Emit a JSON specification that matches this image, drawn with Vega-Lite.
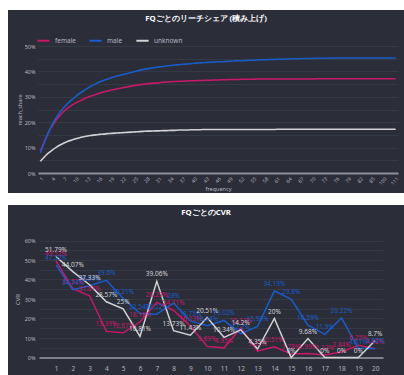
{
  "$schema": "https://vega.github.io/schema/vega-lite/v6.json",
  "background": "white",
  "padding": {"left": 8, "top": 10, "right": 0, "bottom": 0},
  "spacing": 12,
  "config": {
    "font": "Noto Sans",
    "view": {"stroke": null},
    "axis": {"labelColor": "#b4b7c1", "titleColor": "#b4b7c1", "gridColor": "#393c48", "gridWidth": 0.8, "domain": false, "ticks": false, "titleFontWeight": "normal"},
    "legend": {"labelColor": "#b4b7c1", "labelFontSize": 6.5, "symbolType": "stroke", "symbolSize": 150, "symbolStrokeWidth": 2, "columnPadding": 9},
    "title": {"color": "#ffffff", "fontWeight": "bold", "fontSize": 7.8, "anchor": "middle", "baseline": "bottom"}
  },
  "vconcat": [
    {
      "width": 396,
      "height": 183,
      "view": {"fill": "#2b2d38", "stroke": null},
      "title": {"text": "FQごとのリーチシェア (積み上げ)", "offset": -13},
      "data": {"values": [
        {"f":1,"female":0.085,"male":0.079,"unknown":0.046},
        {"f":2,"female":0.124,"male":0.120,"unknown":0.063},
        {"f":3,"female":0.158,"male":0.158,"unknown":0.078},
        {"f":4,"female":0.186,"male":0.190,"unknown":0.090},
        {"f":5,"female":0.209,"male":0.218,"unknown":0.101},
        {"f":6,"female":0.228,"male":0.240,"unknown":0.110},
        {"f":7,"female":0.243,"male":0.259,"unknown":0.118},
        {"f":8,"female":0.256,"male":0.275,"unknown":0.125},
        {"f":9,"female":0.267,"male":0.289,"unknown":0.130},
        {"f":10,"female":0.276,"male":0.302,"unknown":0.135},
        {"f":11,"female":0.284,"male":0.314,"unknown":0.139},
        {"f":12,"female":0.291,"male":0.324,"unknown":0.143},
        {"f":13,"female":0.298,"male":0.334,"unknown":0.146},
        {"f":14,"female":0.304,"male":0.343,"unknown":0.148},
        {"f":15,"female":0.309,"male":0.351,"unknown":0.150},
        {"f":16,"female":0.314,"male":0.358,"unknown":0.152},
        {"f":17,"female":0.319,"male":0.364,"unknown":0.153},
        {"f":18,"female":0.323,"male":0.370,"unknown":0.155},
        {"f":19,"female":0.327,"male":0.375,"unknown":0.156},
        {"f":20,"female":0.330,"male":0.380,"unknown":0.157},
        {"f":21,"female":0.333,"male":0.384,"unknown":0.158},
        {"f":22,"female":0.336,"male":0.388,"unknown":0.159},
        {"f":23,"female":0.339,"male":0.392,"unknown":0.160},
        {"f":24,"female":0.342,"male":0.396,"unknown":0.161},
        {"f":25,"female":0.345,"male":0.400,"unknown":0.162},
        {"f":26,"female":0.347,"male":0.404,"unknown":0.163},
        {"f":27,"female":0.349,"male":0.407,"unknown":0.164},
        {"f":28,"female":0.351,"male":0.410,"unknown":0.165},
        {"f":29,"female":0.353,"male":0.413,"unknown":0.165},
        {"f":30,"female":0.354,"male":0.415,"unknown":0.166},
        {"f":31,"female":0.355,"male":0.417,"unknown":0.166},
        {"f":32,"female":0.357,"male":0.419,"unknown":0.167},
        {"f":33,"female":0.358,"male":0.421,"unknown":0.167},
        {"f":34,"female":0.359,"male":0.423,"unknown":0.168},
        {"f":35,"female":0.360,"male":0.425,"unknown":0.168},
        {"f":36,"female":0.361,"male":0.426,"unknown":0.169},
        {"f":37,"female":0.361,"male":0.428,"unknown":0.169},
        {"f":38,"female":0.362,"male":0.429,"unknown":0.169},
        {"f":39,"female":0.363,"male":0.430,"unknown":0.170},
        {"f":40,"female":0.363,"male":0.432,"unknown":0.170},
        {"f":41,"female":0.364,"male":0.433,"unknown":0.170},
        {"f":42,"female":0.364,"male":0.434,"unknown":0.171},
        {"f":43,"female":0.365,"male":0.435,"unknown":0.171},
        {"f":44,"female":0.365,"male":0.436,"unknown":0.171},
        {"f":45,"female":0.366,"male":0.437,"unknown":0.171},
        {"f":46,"female":0.366,"male":0.438,"unknown":0.171},
        {"f":47,"female":0.367,"male":0.438,"unknown":0.171},
        {"f":48,"female":0.367,"male":0.439,"unknown":0.171},
        {"f":49,"female":0.368,"male":0.440,"unknown":0.171},
        {"f":50,"female":0.368,"male":0.441,"unknown":0.171},
        {"f":51,"female":0.368,"male":0.442,"unknown":0.171},
        {"f":52,"female":0.369,"male":0.442,"unknown":0.171},
        {"f":53,"female":0.369,"male":0.443,"unknown":0.171},
        {"f":54,"female":0.369,"male":0.444,"unknown":0.171},
        {"f":55,"female":0.369,"male":0.444,"unknown":0.171},
        {"f":56,"female":0.370,"male":0.445,"unknown":0.171},
        {"f":57,"female":0.370,"male":0.446,"unknown":0.171},
        {"f":58,"female":0.370,"male":0.446,"unknown":0.171},
        {"f":59,"female":0.370,"male":0.447,"unknown":0.171},
        {"f":60,"female":0.370,"male":0.447,"unknown":0.171},
        {"f":61,"female":0.370,"male":0.448,"unknown":0.172},
        {"f":62,"female":0.370,"male":0.448,"unknown":0.172},
        {"f":63,"female":0.370,"male":0.449,"unknown":0.172},
        {"f":64,"female":0.370,"male":0.449,"unknown":0.172},
        {"f":65,"female":0.370,"male":0.450,"unknown":0.172},
        {"f":66,"female":0.370,"male":0.450,"unknown":0.172},
        {"f":67,"female":0.370,"male":0.450,"unknown":0.172},
        {"f":68,"female":0.370,"male":0.451,"unknown":0.172},
        {"f":69,"female":0.370,"male":0.451,"unknown":0.172},
        {"f":70,"female":0.370,"male":0.451,"unknown":0.172},
        {"f":71,"female":0.371,"male":0.452,"unknown":0.172},
        {"f":72,"female":0.371,"male":0.452,"unknown":0.172},
        {"f":73,"female":0.371,"male":0.452,"unknown":0.172},
        {"f":74,"female":0.371,"male":0.452,"unknown":0.172},
        {"f":75,"female":0.371,"male":0.453,"unknown":0.172},
        {"f":76,"female":0.371,"male":0.453,"unknown":0.172},
        {"f":77,"female":0.371,"male":0.453,"unknown":0.172},
        {"f":78,"female":0.371,"male":0.453,"unknown":0.172},
        {"f":79,"female":0.371,"male":0.453,"unknown":0.172},
        {"f":80,"female":0.371,"male":0.453,"unknown":0.172},
        {"f":81,"female":0.371,"male":0.453,"unknown":0.172},
        {"f":82,"female":0.371,"male":0.453,"unknown":0.172},
        {"f":83,"female":0.371,"male":0.453,"unknown":0.172},
        {"f":84,"female":0.371,"male":0.453,"unknown":0.172},
        {"f":85,"female":0.371,"male":0.453,"unknown":0.172},
        {"f":87,"female":0.371,"male":0.453,"unknown":0.172},
        {"f":90,"female":0.371,"male":0.453,"unknown":0.172},
        {"f":100,"female":0.371,"male":0.453,"unknown":0.172},
        {"f":103,"female":0.371,"male":0.453,"unknown":0.172},
        {"f":106,"female":0.371,"male":0.453,"unknown":0.172},
        {"f":111,"female":0.371,"male":0.453,"unknown":0.172}
      ]},
      "transform": [{"fold": ["female", "male", "unknown"], "as": ["segment", "share"]}],
      "mark": {"type": "line", "strokeWidth": 1.6, "interpolate": "monotone"},
      "encoding": {
        "x": {
          "field": "f", "type": "ordinal",
          "scale": {"type": "point", "range": [30, 390], "padding": 0.6, "align": 0.5},
          "axis": {
            "values": [1,4,7,10,13,16,19,22,25,28,31,34,37,40,43,46,49,52,55,58,61,64,67,70,73,76,79,82,85,100,111],
            "labelAngle": -45, "labelFontSize": 5, "labelPadding": 3,
            "title": "frequency", "titleFontSize": 5.5, "titlePadding": 1,
            "offset": -20, "domain": true, "domainColor": "#8d909a", "domainWidth": 2, "grid": false
          }
        },
        "y": {
          "field": "share", "type": "quantitative",
          "scale": {"domain": [0, 0.5], "range": [163, 36]},
          "axis": {
            "values": [0,0.05,0.1,0.15,0.2,0.25,0.3,0.35,0.4,0.45,0.5],
            "labelExpr": "round(datum.value*100) % 10 == 0 ? round(datum.value*100) + '%' : ''",
            "labelFontSize": 5.5, "labelPadding": 3,
            "title": "reach_share", "titleFontSize": 5.5, "titlePadding": 2,
            "offset": -30, "grid": true
          }
        },
        "color": {
          "field": "segment", "type": "nominal",
          "scale": {"domain": ["female", "male", "unknown"], "range": ["#c8186a", "#1a5cc8", "#d2d2d6"]},
          "legend": {"orient": "none", "legendX": 28, "legendY": 23, "direction": "horizontal", "title": null}
        }
      }
    },
    {
      "width": 396,
      "height": 170,
      "view": {"fill": "#2b2d38", "stroke": null},
      "title": {"text": "FQごとのCVR", "offset": -12},
      "data": {"values": [
        {"f":1,"female":0.4952,"male":0.4752,"unknown":0.5179},
        {"f":2,"female":0.3532,"male":0.3474,"unknown":0.4407},
        {"f":3,"female":0.3167,"male":0.3684,"unknown":0.3733},
        {"f":4,"female":0.1339,"male":0.396,"unknown":0.2857},
        {"f":5,"female":0.1267,"male":0.3021,"unknown":0.25},
        {"f":6,"female":0.1818,"male":0.2254,"unknown":0.1081},
        {"f":7,"female":0.2829,"male":0.2222,"unknown":0.3906},
        {"f":8,"female":0.2411,"male":0.28,"unknown":0.1373},
        {"f":9,"female":0.1613,"male":0.1875,"unknown":0.1143},
        {"f":10,"female":0.0569,"male":0.1634,"unknown":0.2051},
        {"f":11,"female":0.0495,"male":0.1902,"unknown":0.1034},
        {"f":12,"female":0.1512,"male":0.122,"unknown":0.142},
        {"f":13,"female":0.0321,"male":0.1598,"unknown":0.0435},
        {"f":14,"female":0.0551,"male":0.3419,"unknown":0.2},
        {"f":15,"female":0.0178,"male":0.298,"unknown":0},
        {"f":16,"female":0.0199,"male":0.1659,"unknown":0.0968},
        {"f":17,"female":0.0123,"male":0.119,"unknown":0},
        {"f":18,"female":0.0284,"male":0.2022,"unknown":0},
        {"f":19,"female":0.0625,"male":0.0461,"unknown":0},
        {"f":20,"female":0.0442,"male":0.0462,"unknown":0.087}
      ]},
      "transform": [{"fold": ["female", "male", "unknown"], "as": ["segment", "cvr"]}],
      "encoding": {
        "x": {
          "field": "f", "type": "ordinal",
          "scale": {"type": "point", "range": [31, 375], "padding": 0.738, "align": 0.685},
          "axis": {
            "labelAngle": 0, "labelFontSize": 6.5, "labelPadding": 8, "title": null,
            "offset": -17.5, "domain": true, "domainColor": "#9a9ca6", "domainWidth": 1.5, "grid": false
          }
        },
        "y": {
          "field": "cvr", "type": "quantitative",
          "scale": {"domain": [0, 0.6], "range": [152.5, 35.5]},
          "axis": {
            "values": [0,0.05,0.1,0.15,0.2,0.25,0.3,0.35,0.4,0.45,0.5,0.55,0.6],
            "labelExpr": "round(datum.value*100) % 10 == 0 ? round(datum.value*100) + '%' : ''",
            "labelFontSize": 5.5, "labelPadding": 4,
            "title": "CVR", "titleFontSize": 6, "titlePadding": 4,
            "offset": -31, "grid": true
          }
        },
        "color": {
          "field": "segment", "type": "nominal",
          "scale": {"domain": ["female", "male", "unknown"], "range": ["#c8186a", "#1a5cc8", "#d2d2d6"]},
          "legend": {"orient": "none", "legendX": 28, "legendY": 21, "direction": "horizontal", "title": null}
        }
      },
      "layer": [
        {"mark": {"type": "line", "strokeWidth": 1.5}},
        {"mark": {"type": "text", "dy": -7, "fontSize": 6.5}, "encoding": {"text": {"field": "cvr", "type": "quantitative", "format": ".2~%"}}}
      ]
    }
  ]
}
